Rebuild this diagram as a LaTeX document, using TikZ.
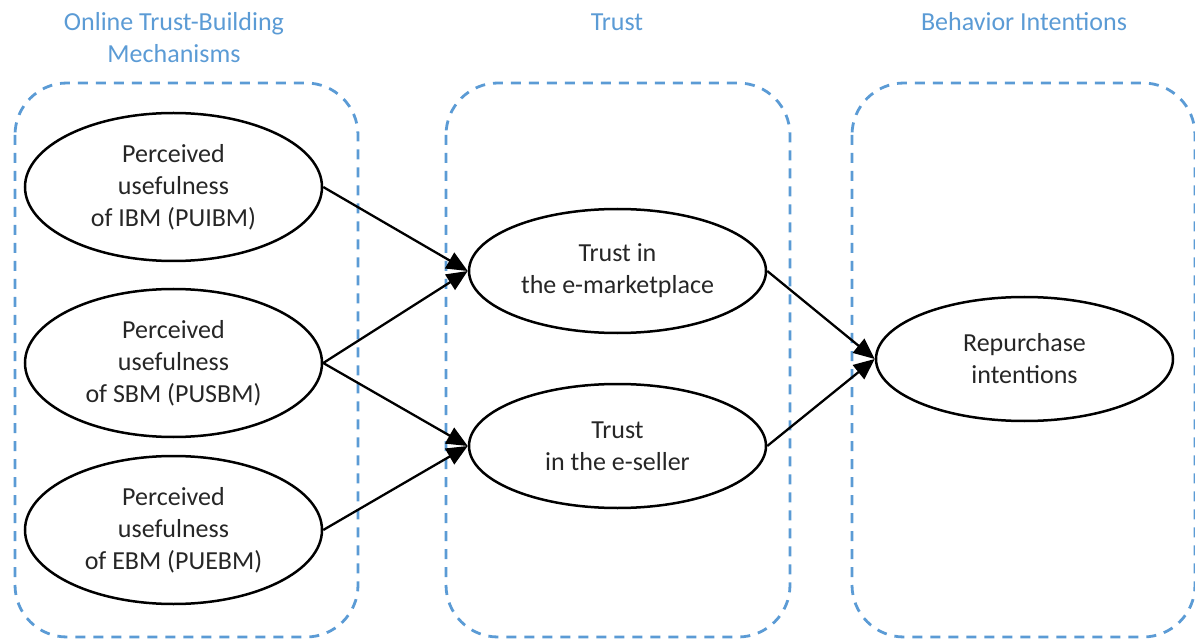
\documentclass[tikz,border=0pt]{standalone}
\usepackage{fontspec}
\setmainfont{Carlito}
\usetikzlibrary{shapes.geometric,arrows.meta}
\definecolor{groupblue}{HTML}{5B9BD5}
\definecolor{bodytext}{HTML}{262626}
\tikzset{
  group/.style={draw=groupblue, line width=2.8pt, dash pattern=on 10pt off 8pt, rounded corners=52pt},
  grouptitle/.style={text=groupblue, font=\fontsize{26}{32}\selectfont, align=center, inner sep=0pt},
  construct/.style={ellipse, draw=black, line width=2.5pt, inner sep=0pt, text=bodytext,
    font=\fontsize{26}{32}\selectfont, align=center},
  bigconstruct/.style={construct, minimum width=297pt, minimum height=148pt},
  smallconstruct/.style={construct, minimum width=297pt, minimum height=124pt},
  path/.style={draw=black, line width=2.3pt, -{Triangle[length=21pt, width=18pt]}}
}
\begin{document}
\begin{tikzpicture}[x=1pt, y=-1pt]
  \useasboundingbox (0,0) rectangle (1195,639);

  % dashed group frames
  \draw[group] (15,83) rectangle (358,637);
  \draw[group] (446,83) rectangle (790,637);
  \draw[group] (852,83) rectangle (1195,637);

  % group titles
  \node[grouptitle] (t1) at (174,38) {Online Trust-Building\\Mechanisms};
  \node[grouptitle] (t2) at (617,22) {Trust};
  \node[grouptitle] (t3) at (1024,22) {Behavior Intentions};

  % constructs
  \node[bigconstruct] (puibm) at (173.5,187) {Perceived\\usefulness\\of IBM (PUIBM)};
  \node[bigconstruct] (pusbm) at (173.5,363) {Perceived\\usefulness\\of SBM (PUSBM)};
  \node[bigconstruct] (puebm) at (173.5,530) {Perceived\\usefulness\\of EBM (PUEBM)};
  \node[smallconstruct] (tmkt) at (617.5,271) {Trust in\\the e-marketplace};
  \node[smallconstruct] (tsel) at (617.5,446) {Trust\\in the e-seller};
  \node[smallconstruct] (rep) at (1024.5,359) {Repurchase\\intentions};

  % hypothesised paths
  \draw[path] (puibm.east) -- (tmkt.west);
  \draw[path] (pusbm.east) -- (tmkt.west);
  \draw[path] (pusbm.east) -- (tsel.west);
  \draw[path] (puebm.east) -- (tsel.west);
  \draw[path] (tmkt.east) -- (rep.west);
  \draw[path] (tsel.east) -- (rep.west);
\end{tikzpicture}
\end{document}
